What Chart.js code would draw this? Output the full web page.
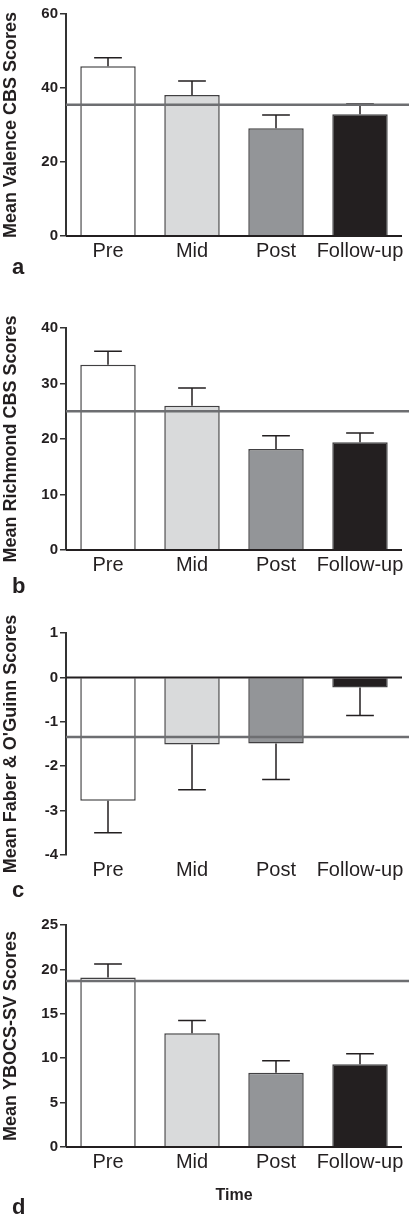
<!DOCTYPE html>
<html>
<head>
<meta charset="utf-8">
<script src="https://cdn.jsdelivr.net/npm/chart.js@4"></script>
<style>
  body { margin: 0; background: #fff; width: 409px; height: 1219px; position: relative; overflow: hidden; }
  canvas { position: absolute; left: 0; }
  .tag { position: absolute; left: 12px; font: bold 22px 'Liberation Sans', Arial, sans-serif; line-height: 22px; color: #231f20; }
</style>
</head>
<body>
<canvas id="chartA"></canvas>
<canvas id="chartB"></canvas>
<canvas id="chartC"></canvas>
<canvas id="chartD"></canvas>
<div class="tag" style="top:256px">a</div>
<div class="tag" style="top:575px">b</div>
<div class="tag" style="top:879px">c</div>
<div class="tag" style="top:1196px">d</div>
<script>
// --- data ---
const categories = ['Pre', 'Mid', 'Post', 'Follow-up'];

const valenceMeans = [45.9, 38.1, 29.1, 32.9];
const valenceSem = [2.3, 3.8, 3.6, 2.8];
const valenceRef = 35.5;

const richmondMeans = [33.4, 26.0, 18.2, 19.4];
const richmondSem = [2.4, 3.2, 2.4, 1.7];
const richmondRef = 25.0;

const faberMeans = [-2.78, -1.51, -1.49, -0.23];
const faberSem = [0.72, 1.02, 0.81, 0.63];
const faberRef = -1.34;

const ybocsMeans = [19.1, 12.8, 8.35, 9.33];
const ybocsSem = [1.5, 1.45, 1.35, 1.17];
const ybocsRef = 18.7;

const barColors = ['#ffffff', '#d9dadb', '#939598', '#231f20'];
const fontFamily = "'Liberation Sans', Arial, sans-serif";
const ink = '#231f20';
const padTop = 24;

// error bars, reference line and zero line drawn from the scales
const extrasPlugin = {
    id: 'extras',
    afterDatasetsDraw(chart, args, opts) {
        let ctx = chart.ctx;
        let x = chart.scales.x;
        let y = chart.scales.y;
        let meta = chart.getDatasetMeta(0);
        ctx.save();

        // error bars
        ctx.strokeStyle = ink;
        ctx.lineWidth = 1.5;
        opts.means.forEach(function (m, i) {
            let sign = m < 0 ? -1 : 1;
            let px = x.getPixelForValue(i);
            let y0 = y.getPixelForValue(m);
            let y1 = y.getPixelForValue(m + sign * opts.sem[i]);
            let half = meta.data[i].width / 4;
            ctx.beginPath();
            ctx.moveTo(px, y0);
            ctx.lineTo(px, y1);
            ctx.moveTo(px - half, y1);
            ctx.lineTo(px + half, y1);
            ctx.stroke();
        });

        // zero line
        let yz = y.getPixelForValue(0);
        ctx.strokeStyle = ink;
        ctx.lineWidth = 2;
        ctx.beginPath();
        ctx.moveTo(chart.chartArea.left, yz);
        ctx.lineTo(chart.chartArea.right, yz);
        ctx.stroke();

        // reference line
        let yr = y.getPixelForValue(opts.ref);
        ctx.strokeStyle = '#6d6e71';
        ctx.lineWidth = 2.5;
        ctx.beginPath();
        ctx.moveTo(chart.chartArea.left, yr);
        ctx.lineTo(chart.width, yr);
        ctx.stroke();

        ctx.restore();
    }
};

// plotTop is where the top tick of the y axis sits on the page
function makePanel(id, plotTop, means, sem, ref, yMin, yMax, step, yTitle, withTime) {
    let canvas = document.getElementById(id);
    let xHeight = withTime ? 58 : 32;
    let height = Math.round(padTop + 221.6 + xHeight);
    canvas.width = 409;
    canvas.height = height;
    canvas.style.top = (plotTop - padTop) + 'px';
    canvas.style.width = '409px';
    canvas.style.height = height + 'px';

    return new Chart(canvas.getContext('2d'), {
        type: 'bar',
        data: {
            labels: categories,
            datasets: [{
                data: means,
                backgroundColor: barColors,
                borderColor: '#414042',
                borderWidth: 1.5,
                categoryPercentage: 1,
                barPercentage: 0.66
            }]
        },
        options: {
            responsive: false,
            animation: false,
            layout: { padding: { top: padTop, right: 7, left: 0, bottom: 0 } },
            plugins: {
                legend: { display: false },
                tooltip: { enabled: false },
                extras: { means: means, sem: sem, ref: ref }
            },
            scales: {
                x: {
                    grid: { display: false, drawTicks: false },
                    border: { display: false },
                    ticks: {
                        padding: 3,
                        color: ink,
                        autoSkip: false,
                        maxRotation: 0,
                        minRotation: 0,
                        font: { size: 20, family: fontFamily }
                    },
                    title: {
                        display: withTime,
                        text: 'Time',
                        color: ink,
                        padding: { top: 2, bottom: 0 },
                        font: { size: 16, weight: 'bold', family: fontFamily }
                    },
                    afterFit: function (scale) { scale.height = xHeight; }
                },
                y: {
                    min: yMin,
                    max: yMax,
                    ticks: {
                        stepSize: step,
                        padding: 2,
                        color: ink,
                        font: { size: 15, weight: 'bold', family: fontFamily }
                    },
                    grid: {
                        drawOnChartArea: false,
                        drawTicks: true,
                        tickLength: 6,
                        color: '#333333',
                        lineWidth: 1.5
                    },
                    border: { color: '#333333', width: 2 },
                    title: {
                        display: true,
                        text: yTitle,
                        color: ink,
                        padding: { top: 0, bottom: 3 },
                        font: { size: 18, weight: 'bold', family: fontFamily }
                    },
                    afterFit: function (scale) { scale.width = 66; }
                }
            }
        },
        plugins: [extrasPlugin]
    });
}

makePanel('chartA', 14, valenceMeans, valenceSem, valenceRef, 0, 60, 20, 'Mean Valence CBS Scores', false);
makePanel('chartB', 328, richmondMeans, richmondSem, richmondRef, 0, 40, 10, 'Mean Richmond CBS Scores', false);
makePanel('chartC', 633, faberMeans, faberSem, faberRef, -4, 1, 1, "Mean Faber & O'Guinn Scores", false);
makePanel('chartD', 925, ybocsMeans, ybocsSem, ybocsRef, 0, 25, 5, 'Mean YBOCS-SV Scores', true);
</script>
</body>
</html>
